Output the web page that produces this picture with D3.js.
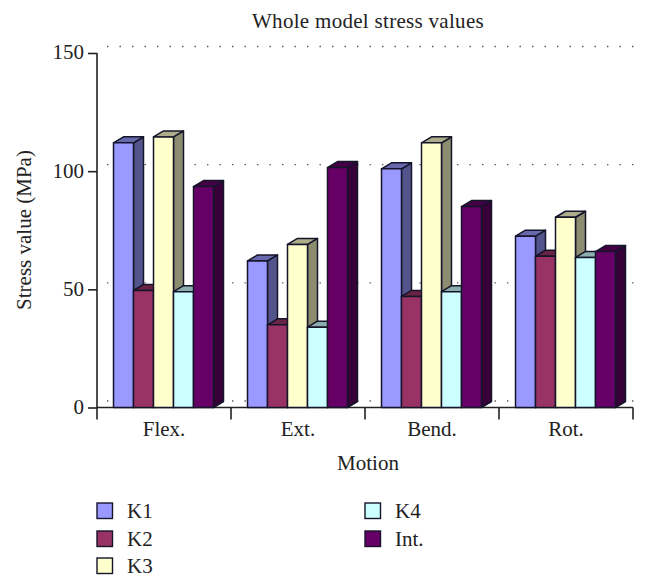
<!DOCTYPE html>
<html><head><meta charset="utf-8">
<script src="https://cdn.jsdelivr.net/npm/d3@7/dist/d3.min.js"></script>
<style>html,body{margin:0;padding:0;background:#fff}svg{display:block}text{font-family:"Liberation Serif",serif;fill:#222}</style>
</head><body><svg id="c" width="648" height="588"></svg>
<script>
const categories=["Flex.","Ext.","Bend.","Rot."];
const seriesNames=["K1","K2","K3","K4","Int."];
const k1=[112,62,101,72.5];
const k2=[49.5,35,47,64];
const k3=[114.5,69,112,80.5];
const k4=[49,34,49,63.5];
const kInt=[93.5,101.5,85,66];
const seriesValues=[k1,k2,k3,k4,kInt];
const colors=["#9999ff","#993366","#ffffcc","#ccffff","#660066"];
const yTicks=[0,50,100,150];
const titleText="Whole model stress values",xTitle="Motion",yTitle="Stress value (MPa)";

const svg=d3.select("#c");
const x0=97,x1=633,y0=407.5,y1=53,dx=10,dy=6;
const x=d3.scaleBand().domain(categories).range([x0,x1]);
const inner=d3.scaleBand().domain(d3.range(5)).range([16.5,116.5]);
const y=d3.scaleLinear().domain([0,150]).range([y0,y1]);
const ink="#14142a";

// back wall dotted gridlines
svg.append("g").selectAll("line").data(yTicks).join("line")
 .attr("x1",x0+dx).attr("x2",x1+5)
 .attr("y1",d=>y(d)-dy-0.5).attr("y2",d=>y(d)-dy-0.5)
 .attr("stroke","#555").attr("stroke-width",1.4).attr("stroke-dasharray","1.4 11.1");

// axes
const ax=svg.append("g").attr("stroke","#222").attr("stroke-width",1.6).attr("fill","none");
ax.append("path").attr("d",`M${x0},${y1}V${y0}H${x1}`);
const xAxis=svg.append("g").attr("transform",`translate(0,${y0})`)
 .call(d3.axisBottom(x).tickSize(0).tickPadding(14));
xAxis.select(".domain").remove();
xAxis.selectAll("text").attr("font-size",21).attr("font-family","Liberation Serif").attr("fill","#222");
svg.append("g").selectAll("line").data(d3.range(5)).join("line")
 .attr("x1",i=>x0+i*x.step()).attr("x2",i=>x0+i*x.step())
 .attr("y1",y0).attr("y2",y0+12).attr("stroke","#222").attr("stroke-width",1.6);
const yAxis=svg.append("g").attr("transform",`translate(${x0},0)`)
 .call(d3.axisLeft(y).tickValues(yTicks).tickSize(9).tickPadding(4));
yAxis.select(".domain").remove();
yAxis.selectAll("line").attr("stroke","#222").attr("stroke-width",1.6);
yAxis.selectAll("text").attr("font-size",21).attr("font-family","Liberation Serif").attr("fill","#222").attr("dy","0.28em");

// 3D bars
const mul=(c,k)=>{const r=d3.rgb(c);return d3.rgb(r.r*k,r.g*k,r.b*k).formatHex();};
const bars=svg.append("g");
categories.forEach((cat,ci)=>{
 seriesValues.forEach((vals,si)=>{
  const xl=x(cat)+inner(si),w=inner.bandwidth(),t=y(vals[ci]),c=colors[si];
  const g=bars.append("g").attr("stroke",ink).attr("stroke-width",1.5).attr("stroke-linejoin","round");
  g.append("path").attr("fill",mul(c,0.55))
   .attr("d",`M${xl+w},${t}l${dx},${-dy}V${y0-dy}l${-dx},${dy}Z`);
  g.append("path").attr("fill",mul(c,0.68))
   .attr("d",`M${xl},${t}l${dx},${-dy}h${w}l${-dx},${dy}Z`);
  g.append("rect").attr("x",xl).attr("y",t).attr("width",w).attr("height",y0-t).attr("fill",c);
 });
});

// titles
svg.append("text").attr("x",368).attr("y",28).attr("text-anchor","middle").attr("font-size",21).attr("letter-spacing",0.3).text(titleText);
svg.append("text").attr("x",368).attr("y",470).attr("text-anchor","middle").attr("font-size",21).text(xTitle);
svg.append("text").attr("transform","translate(31,230) rotate(-90)").attr("text-anchor","middle").attr("font-size",21).text(yTitle);

// legend
const legendPos=[[97,503],[97,531],[97,558],[365,503],[365,531]];
const lg=svg.append("g").selectAll("g").data(seriesNames).join("g")
 .attr("transform",(d,i)=>`translate(${legendPos[i][0]},${legendPos[i][1]})`);
lg.append("rect").attr("width",15.5).attr("height",15.5).attr("fill",(d,i)=>colors[i]).attr("stroke",ink).attr("stroke-width",1.4);
lg.append("text").attr("x",30).attr("y",15).attr("font-size",21).text(d=>d);
</script></body></html>
